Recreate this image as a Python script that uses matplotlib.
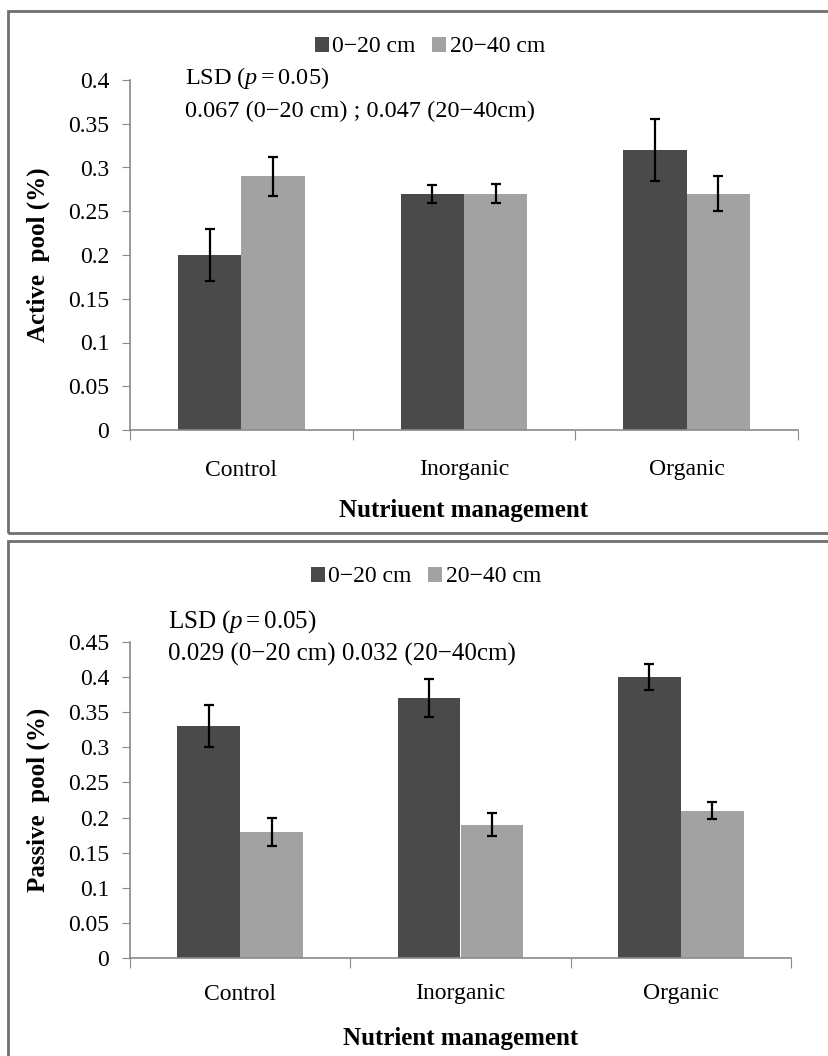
import numpy as np
import matplotlib.pyplot as plt
from matplotlib.patches import Rectangle

plt.rcParams['font.family'] = ['Liberation Serif', 'DejaVu Serif']
plt.rcParams['mathtext.fontset'] = 'custom'
plt.rcParams['mathtext.it'] = 'Liberation Serif:italic'
plt.rcParams['mathtext.rm'] = 'Liberation Serif'

treatments = ['Control', 'Inorganic', 'Organic']
depths = ['0\u221220 cm', '20\u221240 cm']

active_top = [0.20, 0.27, 0.32]
active_top_err = [0.030, 0.010, 0.036]
active_sub = [0.29, 0.27, 0.27]
active_sub_err = [0.022, 0.011, 0.020]

passive_top = [0.33, 0.37, 0.40]
passive_top_err = [0.030, 0.027, 0.019]
passive_sub = [0.18, 0.19, 0.21]
passive_sub_err = [0.020, 0.016, 0.012]

active_ticks = np.arange(0, 0.401, 0.05)
passive_ticks = np.arange(0, 0.451, 0.05)

dark = '#4a4a4a'
light = '#a2a2a2'
axis_grey = '#8a8a8a'

W, H = 829, 1056
PT = 72 / 100  # points per pixel at dpi 100
fig = plt.figure(figsize=(W / 100, H / 100), dpi=100)


def px_axes(left, right, top, bottom):
    return fig.add_axes([left / W, 1 - bottom / H, (right - left) / W, (bottom - top) / H])


def draw_panel(ax, top, top_err, sub, sub_err, ticks, ylabel, xlabel, lsd_lines,
               legend_xy, lsd_x, lsd_y, cat_drop, xlab_drop, lsd_size):
    x = np.arange(len(treatments)) + 0.5
    w = 0.285
    ax.bar(x - w / 2, top, w, color=dark, label=depths[0], zorder=2)
    ax.bar(x + w / 2, sub, w, color=light, label=depths[1], zorder=2)
    ekw = dict(fmt='none', ecolor='black', elinewidth=1.6, capsize=3.8, capthick=1.6, zorder=3)
    ax.errorbar(x - w / 2, top, yerr=top_err, **ekw)
    ax.errorbar(x + w / 2, sub, yerr=sub_err, **ekw)

    ax.set_xlim(0, len(treatments))
    ax.set_ylim(0, ticks[-1])
    ax.set_yticks(ticks)
    ax.set_yticklabels(['0' if t == 0 else f'{t:.2f}'.rstrip('0') for t in ticks])
    ax.set_xticks(np.arange(len(treatments) + 1))
    ax.set_xticklabels([])
    ax.tick_params(axis='x', length=7, color=axis_grey, direction='out')
    ax.tick_params(axis='y', length=6, color=axis_grey, direction='out', labelsize=17, pad=9)
    for s in ['top', 'right']:
        ax.spines[s].set_visible(False)
    for s in ['left', 'bottom']:
        ax.spines[s].set_color(axis_grey)
        ax.spines[s].set_linewidth(1.2)

    # category names under each group
    for xi, name in zip(x, treatments):
        ax.annotate(name, xy=(xi, 0), xycoords=('data', 'axes fraction'),
                    xytext=(0, -cat_drop * PT), textcoords='offset points',
                    ha='center', va='center', fontsize=17)
    ax.annotate(xlabel, xy=(0.5, 0), xycoords='axes fraction',
                xytext=(0, -xlab_drop * PT), textcoords='offset points',
                ha='center', va='center', fontsize=18, fontweight='bold')
    ax.annotate(ylabel, xy=(0, 0.5), xycoords='axes fraction',
                xytext=(-92 * PT, 0), textcoords='offset points',
                ha='center', va='center', rotation=90, fontsize=18, fontweight='bold')

    fig.legend(*ax.get_legend_handles_labels(), loc='center',
               bbox_to_anchor=(legend_xy[0] / W, 1 - legend_xy[1] / H), ncol=2, frameon=False,
               fontsize=17, handlelength=0.6, handleheight=0.6, handletextpad=0.15,
               columnspacing=0.7, borderaxespad=0, borderpad=0)
    fig.text(lsd_x / W, 1 - lsd_y[0] / H, lsd_lines[0], fontsize=lsd_size, va='center')
    fig.text(lsd_x / W, 1 - lsd_y[1] / H, lsd_lines[1], fontsize=lsd_size, va='center')


ax1 = px_axes(130, 798, 80, 430)
draw_panel(ax1, active_top, active_top_err, active_sub, active_sub_err, active_ticks,
           'Active  pool (%)', 'Nutriuent management',
           ['LSD ($p=$0.05)', '0.067 (0\u221220 cm) ; 0.047 (20\u221240cm)'],
           (430, 47), 185, (78, 111), 40, 80, 17.5)

ax2 = px_axes(130, 791, 642, 958)
draw_panel(ax2, passive_top, passive_top_err, passive_sub, passive_sub_err, passive_ticks,
           'Passive  pool (%)', 'Nutrient management',
           ['LSD ($p=$0.05)', '0.029 (0\u221220 cm) 0.032 (20\u221240cm)'],
           (426, 577), 168, (622, 654), 36, 81, 18)

# panel frames
frame = '#707070'
fig.add_artist(Rectangle((8 / W, 1 - 533 / H), 1.0, (533 - 11) / H, transform=fig.transFigure,
                         fill=False, edgecolor=frame, linewidth=2))
fig.add_artist(Rectangle((8 / W, -0.05), 1.0, 0.05 + 1 - 541 / H, transform=fig.transFigure,
                         fill=False, edgecolor=frame, linewidth=2))

fig.savefig('out.png', dpi=100)
